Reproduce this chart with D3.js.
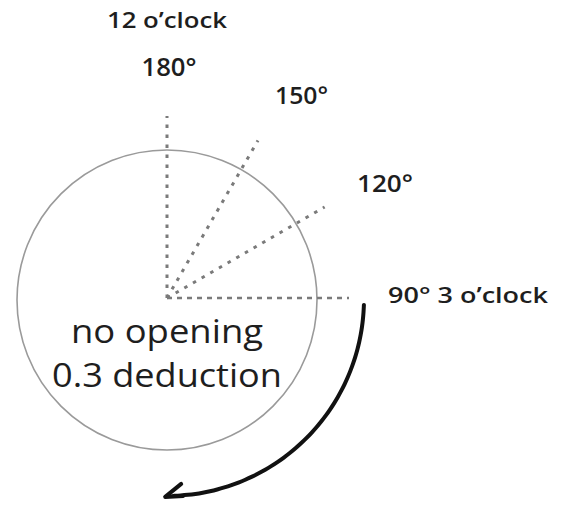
<!DOCTYPE html>
<html>
<head>
<meta charset="utf-8">
<script src="https://cdn.jsdelivr.net/npm/d3@7"></script>
<style>
  html, body { margin: 0; padding: 0; background: #fff; }
  svg { display: block; }
  text { font-family: "Open Sans", "Noto Sans", sans-serif; fill: #1e1e1e; }
</style>
</head>
<body>
<script>
// ---- data ----
const angleLabels = [180, 150, 120, 90];
const angleTexts = ["180\u00B0", "150\u00B0", "120\u00B0", "90\u00B0 3 o\u2019clock"];
const topLabel = "12 o\u2019clock";
const centerLines = ["no opening", "0.3 deduction"];

const W = 564, H = 508;
const svg = d3.select("body").append("svg").attr("width", W).attr("height", H);

const cx = 167, cy = 298;
// angle scale: label degrees -> angle from 12 o'clock (radians, clockwise)
const ang = d3.scaleLinear().domain([180, 90]).range([0, Math.PI / 2]);
const rad = d3.scaleLinear().domain([0, 1]).range([0, 182]);

// circle
svg.append("circle")
  .attr("cx", cx).attr("cy", cy + 2).attr("r", 150)
  .attr("fill", "none").attr("stroke", "#9a9a9a").attr("stroke-width", 1.6);

// dashed rays
svg.selectAll("line.ray").data(angleLabels).enter().append("line")
  .attr("class", "ray")
  .attr("x1", cx).attr("y1", cy)
  .attr("x2", d => cx + rad(1) * Math.sin(ang(d)))
  .attr("y2", d => cy - rad(1) * Math.cos(ang(d)))
  .attr("stroke", "#7a7a7a")
  .attr("stroke-width", d => d === 90 ? 2.4 : 3)
  .attr("stroke-dasharray", d => d === 90 ? "5,5" : "3.5,6.5");

// labels
const labelPos = [
  {x: 169, y: 76, size: 26, len: 55, anchor: "middle"},
  {x: 275, y: 104, size: 24, len: 53, anchor: "start"},
  {x: 357, y: 192, size: 24, len: 56, anchor: "start"},
  {x: 388, y: 303, size: 21, len: 160, anchor: "start"}
];
svg.selectAll("text.lbl").data(angleTexts).enter().append("text")
  .attr("class", "lbl")
  .attr("x", (d, i) => labelPos[i].x)
  .attr("y", (d, i) => labelPos[i].y)
  .attr("font-size", (d, i) => labelPos[i].size)
  .attr("font-weight", 600)
  .attr("text-anchor", (d, i) => labelPos[i].anchor)
  .attr("textLength", (d, i) => labelPos[i].len)
  .attr("lengthAdjust", "spacingAndGlyphs")
  .text(d => d);

svg.append("text")
  .attr("x", 107).attr("y", 28)
  .attr("font-size", 22)
  .attr("font-weight", 600)
  .attr("textLength", 120).attr("lengthAdjust", "spacingAndGlyphs")
  .text(topLabel);

// center text
const cl = [{y: 343, len: 192}, {y: 387, len: 230}];
svg.selectAll("text.center").data(centerLines).enter().append("text")
  .attr("class", "center")
  .attr("x", 167)
  .attr("y", (d, i) => cl[i].y)
  .attr("font-size", 32)
  .attr("text-anchor", "middle")
  .attr("textLength", (d, i) => cl[i].len)
  .attr("lengthAdjust", "spacingAndGlyphs")
  .text(d => d);

// curved arrow (clockwise from 3 o'clock to 6 o'clock)
const arcR = 197;
const a0 = ang(90);
const aEnd = Math.PI * 0.99;
svg.append("path")
  .attr("transform", `translate(${cx},${cy + 1})`)
  .attr("d", d3.line().curve(d3.curveBasis)(
    d3.range(0, 41).map(i => {
      const t = a0 + 0.03 + (aEnd - a0 - 0.03) * i / 40;
      return [arcR * Math.sin(t), -arcR * Math.cos(t)];
    })))
  .attr("fill", "none").attr("stroke", "#111").attr("stroke-width", 4)
  .attr("stroke-linecap", "round");

// arrowhead
const tip = [cx + arcR * Math.sin(aEnd) - 8, cy + 2 - arcR * Math.cos(aEnd)];
svg.append("path")
  .attr("d", `M${tip[0] + 16},${tip[1] - 13} L${tip[0]},${tip[1]} L${tip[0] + 18},${tip[1] - 1}`)
  .attr("fill", "none").attr("stroke", "#111").attr("stroke-width", 4)
  .attr("stroke-linecap", "round").attr("stroke-linejoin", "round");
</script>
</body>
</html>
